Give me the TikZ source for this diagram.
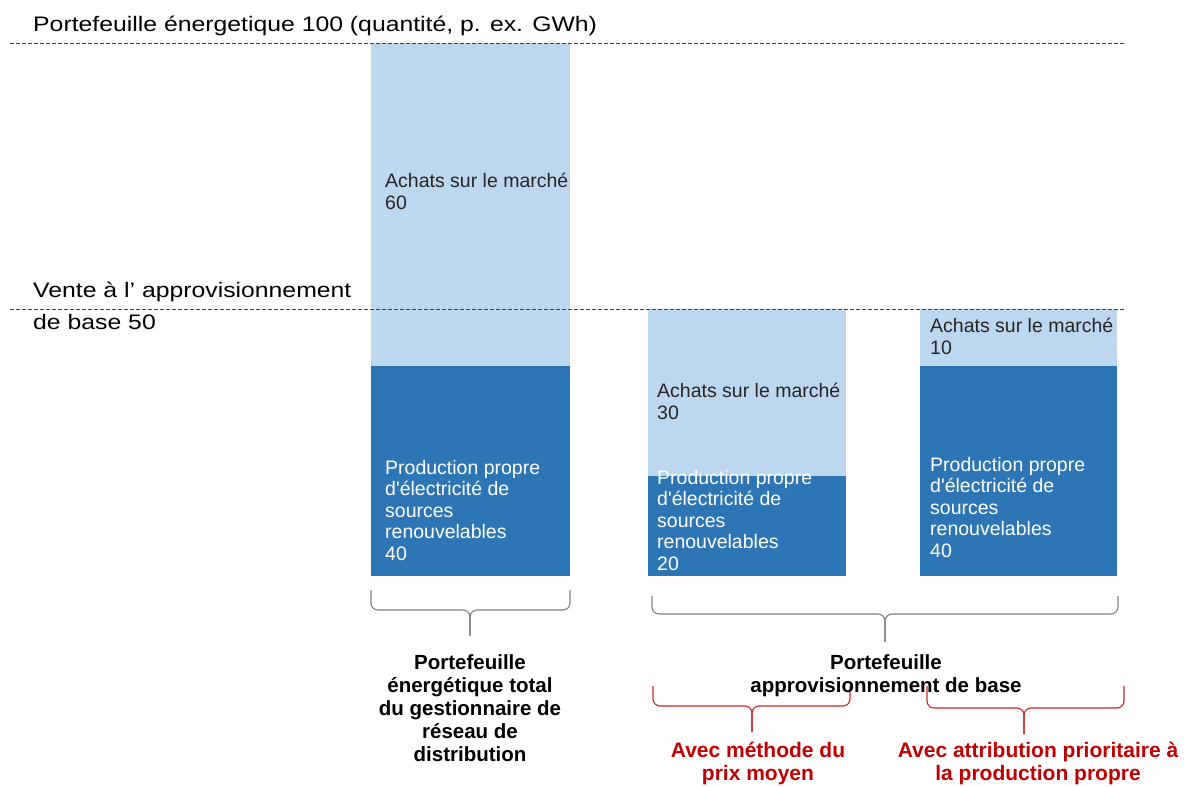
\documentclass[tikz,border=0pt]{standalone}
\usepackage{fontspec}
\setmainfont{Liberation Sans}
\newfontfamily\levelfont[FakeStretch = 1.18]{Liberation Sans}
\newfontfamily\barfont{Liberation Sans}
\usetikzlibrary{positioning}

\definecolor{marketblue}{HTML}{BDD7EE}
\definecolor{ownblue}{HTML}{2E75B6}
\definecolor{bracegray}{HTML}{808080}
\definecolor{notered}{HTML}{C00000}

\tikzset{
    level/.style     = {draw = black!75, dash pattern = on 3.5pt off 2.5pt, line width = 0.8pt},
    leveltext/.style = {anchor = base west, align = left, inner sep = 0,
                        font = \levelfont\fontsize{21}{32}\selectfont},
    buytext/.style   = {anchor = base west, align = left, inner sep = 0, text = black!85,
                        font = \barfont\fontsize{19.5}{21.5}\selectfont},
    owntext/.style   = {buytext, text = white},
    bracket/.style   = {draw = bracegray, line width = 1.1pt, rounded corners = 7pt},
    redbracket/.style= {bracket, draw = notered!85},
    sumtext/.style   = {anchor = base, align = center, inner sep = 0,
                        font = \fontsize{20.5}{23}\bfseries\selectfont},
    redtext/.style   = {sumtext, text = notered, font = \fontsize{21}{23}\bfseries\selectfont}
}

\begin{document}
\begin{tikzpicture}[x = 1pt, y = -1pt]

    \def\full  {43}
    \def\half  {309}
    \def\floor {576}

    \useasboundingbox (0, 0) rectangle (1184, 787);

    % total portfolio bar
    \path [fill = marketblue] (371, \full) rectangle (570, 366);
    \path [fill = ownblue]    (371, 366)   rectangle (570, \floor);
    % average price bar
    \path [fill = marketblue] (648, \half) rectangle (846, 476);
    \path [fill = ownblue]    (648, 476)   rectangle (846, \floor);
    % own production first bar
    \path [fill = marketblue] (920, \half) rectangle (1117, 366);
    \path [fill = ownblue]    (920, 366)   rectangle (1117, \floor);

    % levels
    \draw [level] (10, \full) -- (1126, \full);
    \draw [level] (10, \half) -- (1126, \half);
    \node [leveltext] (total) at (33, 31)
        {Portefeuille énergetique 100 (quantité, p. ex. GWh)};
    \node [leveltext] (supply) at (33, 329)
        {Vente à l’ approvisionnement\\de base 50};

    % bar labels (placed at the baseline of the last line)
    \node [buytext] (buy1) at (385, 209) {Achats sur le marché\\60};
    \node [owntext] (own1) at (385, 560)
        {Production propre\\d'électricité de\\sources\\renouvelables\\40};
    \node [buytext] (buy2) at (657, 419) {Achats sur le marché\\30};
    \node [owntext] (own2) at (657, 570)
        {Production propre\\d'électricité de\\sources\\renouvelables\\20};
    \node [buytext] (buy3) at (930, 354) {Achats sur le marché\\10};
    \node [owntext] (own3) at (930, 557)
        {Production propre\\d'électricité de\\sources\\renouvelables\\40};

    % braces
    \draw [bracket] (371, 590) -- (371, 610) -- (470, 610) -- (470, 636);
    \draw [bracket] (570, 590) -- (570, 610) -- (470, 610) -- (470, 636);
    \draw [bracket] (652, 596) -- (652, 614) -- (885, 614) -- (885, 642);
    \draw [bracket] (1118, 596) -- (1118, 614) -- (885, 614) -- (885, 642);
    \draw [redbracket] (653, 686) -- (653, 706) -- (752, 706) -- (752, 732);
    \draw [redbracket] (850, 686) -- (850, 706) -- (752, 706) -- (752, 732);
    \draw [redbracket] (927, 686) -- (927, 708) -- (1024, 708) -- (1024, 734);
    \draw [redbracket] (1124, 686) -- (1124, 708) -- (1024, 708) -- (1024, 734);

    % portfolio labels
    \node [sumtext] (dso) at (470, 761)
        {Portefeuille\\énergétique total\\du gestionnaire de\\réseau de\\distribution};
    \node [sumtext] (basic) at (886, 692) {Portefeuille\\approvisionnement de base};
    \node [redtext] (mean) at (758, 780) {Avec méthode du\\prix moyen};
    \node [redtext] (prio) at (1038, 780) {Avec attribution prioritaire à\\la production propre};

\end{tikzpicture}
\end{document}
